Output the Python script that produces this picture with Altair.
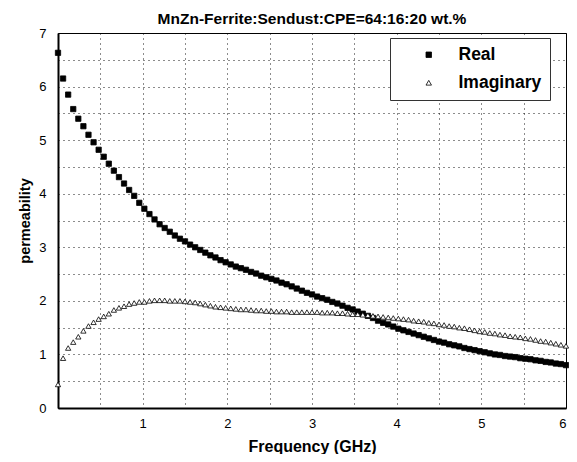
import altair as alt
import pandas as pd

freq = [0.00, 0.06, 0.12, 0.18, 0.24, 0.30, 0.36, 0.42, 0.48, 0.54,
        0.60, 0.66, 0.72, 0.78, 0.84, 0.90, 0.96, 1.02, 1.08, 1.14,
        1.20, 1.26, 1.32, 1.38, 1.44, 1.50, 1.56, 1.62, 1.68, 1.74,
        1.80, 1.86, 1.92, 1.98, 2.04, 2.10, 2.16, 2.22, 2.28, 2.34,
        2.40, 2.46, 2.52, 2.58, 2.64, 2.70, 2.76, 2.82, 2.88, 2.94,
        3.00, 3.06, 3.12, 3.18, 3.24, 3.30, 3.36, 3.42, 3.48, 3.54,
        3.60, 3.66, 3.72, 3.78, 3.84, 3.90, 3.96, 4.02, 4.08, 4.14,
        4.20, 4.26, 4.32, 4.38, 4.44, 4.50, 4.56, 4.62, 4.68, 4.74,
        4.80, 4.86, 4.92, 4.98, 5.04, 5.10, 5.16, 5.22, 5.28, 5.34,
        5.40, 5.46, 5.52, 5.58, 5.64, 5.70, 5.76, 5.82, 5.88, 5.94,
        6.00]

real = [6.63, 6.15, 5.85, 5.58, 5.40, 5.26, 5.10, 4.96, 4.82, 4.69,
        4.56, 4.43, 4.31, 4.19, 4.07, 3.96, 3.83, 3.72, 3.62, 3.52,
        3.43, 3.36, 3.29, 3.22, 3.16, 3.11, 3.05, 3.00, 2.95, 2.90,
        2.85, 2.81, 2.76, 2.72, 2.68, 2.64, 2.61, 2.58, 2.54, 2.51,
        2.47, 2.44, 2.41, 2.38, 2.34, 2.31, 2.27, 2.23, 2.19, 2.15,
        2.12, 2.08, 2.05, 2.02, 1.98, 1.95, 1.91, 1.87, 1.84, 1.80,
        1.76, 1.72, 1.68, 1.63, 1.59, 1.56, 1.52, 1.48, 1.45, 1.42,
        1.39, 1.36, 1.33, 1.30, 1.27, 1.24, 1.22, 1.19, 1.17, 1.15,
        1.12, 1.10, 1.08, 1.06, 1.04, 1.02, 1.00, 0.99, 0.97, 0.96,
        0.95, 0.93, 0.92, 0.91, 0.89, 0.88, 0.86, 0.85, 0.83, 0.82,
        0.80]

imaginary = [0.44, 0.93, 1.12, 1.23, 1.33, 1.44, 1.53, 1.60, 1.66, 1.71,
             1.76, 1.83, 1.87, 1.90, 1.94, 1.96, 1.98, 1.98, 2.00, 2.01,
             2.01, 2.01, 2.00, 2.00, 2.00, 1.99, 1.98, 1.97, 1.95, 1.93,
             1.91, 1.89, 1.88, 1.87, 1.86, 1.85, 1.84, 1.84, 1.83, 1.82,
             1.82, 1.81, 1.81, 1.80, 1.80, 1.80, 1.79, 1.79, 1.79, 1.79,
             1.79, 1.79, 1.78, 1.78, 1.78, 1.77, 1.77, 1.76, 1.75, 1.75,
             1.74, 1.73, 1.72, 1.71, 1.70, 1.69, 1.68, 1.67, 1.66, 1.65,
             1.63, 1.62, 1.61, 1.59, 1.58, 1.56, 1.55, 1.53, 1.52, 1.50,
             1.49, 1.47, 1.45, 1.43, 1.42, 1.40, 1.39, 1.37, 1.36, 1.34,
             1.33, 1.32, 1.30, 1.29, 1.27, 1.25, 1.24, 1.22, 1.20, 1.18,
             1.16]

series_names = ["Real", "Imaginary"]
x_grid = [0.5, 1, 1.5, 2, 2.5, 3, 3.5, 4, 4.5, 5, 5.5, 6]
y_grid = [0, 0.5, 1, 1.5, 2, 2.5, 3, 3.5, 4, 4.5, 5, 5.5, 6, 6.5, 7]

df = pd.concat([
    pd.DataFrame({"f": freq, "mu": real, "series": "Real"}),
    pd.DataFrame({"f": freq, "mu": imaginary, "series": "Imaginary"}),
])

FONT = "Liberation Sans"
INT_LABEL = "datum.value % 1 == 0 ? format(datum.value, 'd') : ''"

legend = alt.Legend(title=None, labelExpr="datum.label + '\u00a0\u00a0'")

chart = alt.Chart(df).mark_point(size=28, strokeWidth=0.8, opacity=1).encode(
    x=alt.X("f:Q", scale=alt.Scale(domain=[0, 6], nice=False),
            axis=alt.Axis(title="Frequency (GHz)", values=x_grid, labelExpr=INT_LABEL,
                          ticks=False, labelPadding=9, titlePadding=8, titleFontSize=16)),
    y=alt.Y("mu:Q", scale=alt.Scale(domain=[0, 7], nice=False),
            axis=alt.Axis(title="permeability", values=y_grid, labelExpr=INT_LABEL,
                          ticks=False, labelPadding=12, titlePadding=6, titleFontSize=14.5)),
    shape=alt.Shape("series:N", scale=alt.Scale(domain=series_names, range=["square", "triangle-up"]),
                    legend=legend),
    fill=alt.Fill("series:N", scale=alt.Scale(domain=series_names, range=["black", "white"]),
                  legend=legend),
    stroke=alt.Stroke("series:N", scale=alt.Scale(domain=series_names, range=["black", "black"]),
                      legend=legend),
).properties(
    width=508, height=375,
    title=alt.TitleParams("MnZn-Ferrite:Sendust:CPE=64:16:20 wt.%", font=FONT, fontSize=15.5,
                          fontWeight="bold", color="black", offset=0),
    autosize=alt.AutoSizeParams(type="none"),
    padding={"left": 50, "top": 25, "right": 3, "bottom": 46},
).configure_view(
    stroke="black", strokeWidth=1
).configure_axis(
    labelFont=FONT, labelFontSize=13, labelColor="black",
    titleFont=FONT, titleFontWeight="bold", titleColor="black",
    domainColor="black", domainWidth=2,
    gridColor="black", gridDash=[1, 4], gridWidth=1, gridOpacity=0.9,
).configure_legend(
    orient="none", legendX=332, legendY=5,
    padding=8, fillColor="white", strokeColor="#333", strokeWidth=1,
    symbolOffset=22, labelOffset=21, rowPadding=9,
    labelFont=FONT, labelFontSize=17.5, labelFontWeight="bold", labelColor="black",
    symbolSize=30, symbolStrokeWidth=0.8,
)

chart.save("out.html", embed_options={"renderer": "svg", "actions": False})
